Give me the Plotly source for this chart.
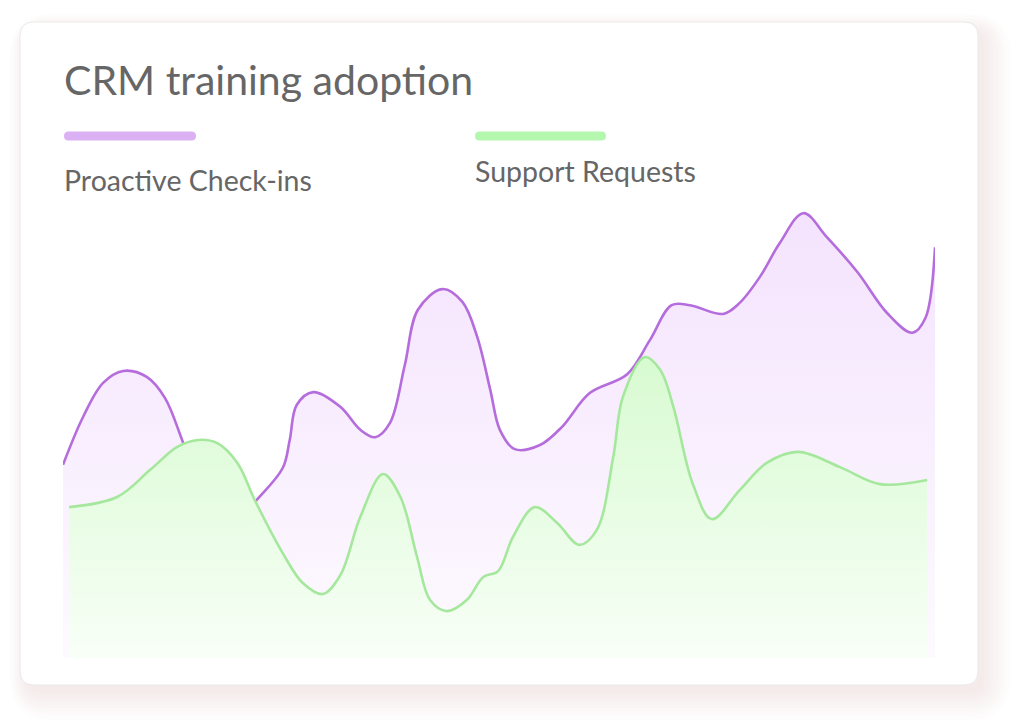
import plotly.graph_objects as go

# ---------------- data ----------------
title_text = "CRM training adoption"
series_names = ["Proactive Check-ins", "Support Requests"]

checkin_day = [0.0, 2.3, 4.6, 6.9, 9.6, 11.7, 13.8, 16.3, 19.7, 22.0, 25.2, 26.0, 26.8, 28.7, 31.8, 34.1,
               35.8, 37.5, 39.2, 40.7, 43.5, 45.8, 47.5, 49.0, 50.1, 51.8, 54.7, 57.2, 60.4, 64.7,
               67.3, 69.8, 71.9, 75.7, 77.6, 79.9, 82.2, 84.9, 87.6, 91.1, 94.5, 97.4, 98.9, 100.0]
checkin_val = [42.0, 52.4, 59.8, 62.4, 61.1, 56.5, 46.7, 34.6, 28.9, 33.9, 41.3, 47.4, 55.0, 57.8, 54.6, 49.6,
               48.0, 51.1, 63.7, 75.7, 80.2, 77.4, 69.8, 58.3, 49.6, 45.4, 46.3, 50.2, 57.6, 61.7,
               69.1, 76.7, 76.7, 74.8, 77.2, 82.8, 90.2, 96.7, 91.5, 83.9, 75.0, 70.7, 73.9, 89.3]

support_day = [0.7, 6.2, 10.0, 13.1, 15.5, 17.7, 20.0, 22.0, 25.2, 27.5, 29.8, 31.8, 34.1, 36.7, 38.7,
               40.6, 42.1, 44.0, 46.3, 48.2, 49.9, 51.6, 54.1, 56.7, 59.2, 61.2, 63.1, 64.2, 66.7,
               68.5, 70.0, 72.2, 74.4, 77.6, 80.7, 84.3, 89.1, 93.7, 99.1]
support_val = [32.8, 35.0, 40.9, 45.9, 47.4, 46.7, 42.4, 34.3, 22.8, 16.3, 13.9, 18.0, 30.7, 40.0, 35.0,
               22.0, 12.6, 10.2, 12.6, 17.6, 18.9, 26.3, 32.8, 29.3, 24.6, 27.8, 43.7, 56.7, 65.4,
               62.6, 54.6, 38.0, 30.2, 36.5, 42.4, 44.8, 41.5, 37.8, 38.7]

# ---------------- layout helpers ----------------
OFF = 8                      # page body margin
W, H = 1024 - 2 * OFF, 728 - 2 * OFF
PL, PR, PT, PB = 63, 935, 198, 658   # plot area in window pixels
ML, MR = PL - OFF, W - (PR - OFF)
MT, MB = PT - OFF, H - (PB - OFF)
PW, PH = PR - PL, PB - PT


def fx(x):
    return (x - PL) / PW


def fy(y):
    return 1 - (y - PT) / PH


def rounded_rect(x0, y0, x1, y1, r):
    pts = [
        ("M", [(x0 + r, y0)]),
        ("L", [(x1 - r, y0)]),
        ("Q", [(x1, y0), (x1, y0 + r)]),
        ("L", [(x1, y1 - r)]),
        ("Q", [(x1, y1), (x1 - r, y1)]),
        ("L", [(x0 + r, y1)]),
        ("Q", [(x0, y1), (x0, y1 - r)]),
        ("L", [(x0, y0 + r)]),
        ("Q", [(x0, y0), (x0 + r, y0)]),
    ]
    s = ""
    for cmd, coords in pts:
        s += cmd + " " + " ".join(f"{fx(a):.5f},{fy(b):.5f}" for a, b in coords) + " "
    return s + "Z"


PURPLE_LINE = "#b56cdc"
GREEN_LINE = "#a5e89d"
PURPLE_BAR = "#dcb1f4"
GREEN_BAR = "#b4f7ae"
TEXT = "#666666"

shapes = []
# card shadow (layered soft rectangles)
card = (20, 22, 978, 685)
for k in range(10):
    e = 3 * k
    shapes.append(dict(
        type="path", xref="paper", yref="paper", layer="below",
        path=rounded_rect(card[0] + 6 - e * 0.6, card[1] + 8 - e * 0.6,
                          card[2] + 6 + e, card[3] + 8 + e, 16 + e),
        fillcolor="rgba(200,155,150,0.02)", line=dict(width=0)))
# card
shapes.append(dict(
    type="path", xref="paper", yref="paper", layer="below",
    path=rounded_rect(*card, 14),
    fillcolor="#ffffff", line=dict(color="#e9e9e9", width=1)))
# legend pills
shapes.append(dict(type="path", xref="paper", yref="paper", layer="above",
                   path=rounded_rect(64, 131.5, 196, 140.5, 4.5),
                   fillcolor=PURPLE_BAR, line=dict(width=0)))
shapes.append(dict(type="path", xref="paper", yref="paper", layer="above",
                   path=rounded_rect(475, 131.5, 606, 140.5, 4.5),
                   fillcolor=GREEN_BAR, line=dict(width=0)))

annotations = [
    dict(text=title_text, xref="paper", yref="paper", x=fx(62), y=fy(80),
         xanchor="left", yanchor="middle", showarrow=False,
         font=dict(family="Lato", size=41, color=TEXT)),
    dict(text=series_names[0], xref="paper", yref="paper", x=fx(62), y=fy(180),
         xanchor="left", yanchor="middle", showarrow=False,
         font=dict(family="Lato", size=28.5, color=TEXT)),
    dict(text=series_names[1], xref="paper", yref="paper", x=fx(473), y=fy(171),
         xanchor="left", yanchor="middle", showarrow=False,
         font=dict(family="Lato", size=28.5, color=TEXT)),
]

fig = go.Figure()
fig.add_trace(go.Scatter(
    x=checkin_day, y=checkin_val, name=series_names[0], mode="lines",
    line=dict(color=PURPLE_LINE, width=2.6, shape="spline", smoothing=1),
    fill="tozeroy",
    fillgradient=dict(type="vertical", start=0, stop=100,
                      colorscale=[[0, "rgb(253,250,255)"], [1, "rgb(244,226,253)"]]),
    hoverinfo="skip"))
fig.add_trace(go.Scatter(
    x=support_day, y=support_val, name=series_names[1], mode="lines",
    line=dict(color=GREEN_LINE, width=2.6, shape="spline", smoothing=1),
    fill="tozeroy",
    fillgradient=dict(type="vertical", start=0, stop=70,
                      colorscale=[[0, "rgb(248,255,247)"], [1, "rgb(213,250,206)"]]),
    hoverinfo="skip"))

fig.update_layout(
    width=W, height=H,
    margin=dict(l=ML, r=MR, t=MT, b=MB, pad=0),
    paper_bgcolor="#ffffff", plot_bgcolor="rgba(0,0,0,0)",
    showlegend=False,
    xaxis=dict(range=[0, 100], visible=False, fixedrange=True),
    yaxis=dict(range=[0, 100], visible=False, fixedrange=True),
    shapes=shapes, annotations=annotations,
)

fig.write_html("out.html")
